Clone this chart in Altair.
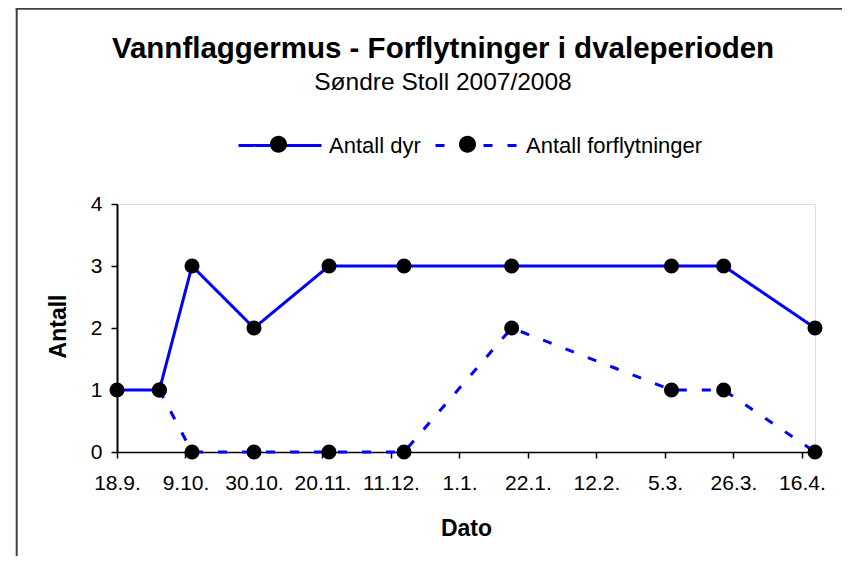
import json
import altair as alt
import pandas as pd

TITLE = "Vannflaggermus - Forflytninger i dvaleperioden"
SUBTITLE = "Søndre Stoll 2007/2008"
X_TITLE = "Dato"
Y_TITLE = "Antall"
SERIES = ["Antall dyr", "Antall forflytninger"]

# observation day, counted in days after 18.9.
DAYS = [0, 13, 23, 42, 65, 88, 121, 170, 186, 214]
ANTALL_DYR = [1, 1, 3, 2, 3, 3, 3, 3, 3, 2]
ANTALL_FORFLYTNINGER = [None, 1, 0, 0, 0, 0, 2, 1, 1, 0]

TICK_DAYS = [0, 21, 42, 63, 84, 105, 126, 147, 168, 189, 210]
TICK_LABELS = ["18.9.", "9.10.", "30.10.", "20.11.", "11.12.", "1.1.",
               "22.1.", "12.2.", "5.3.", "26.3.", "16.4."]
Y_TICKS = [0, 1, 2, 3, 4]

FONT = "Liberation Sans"
BLUE = "#0000ff"

rows = []
for d, a, f in zip(DAYS, ANTALL_DYR, ANTALL_FORFLYTNINGER):
    rows.append({"day": d, "value": a, "serie": SERIES[0]})
    rows.append({"day": d, "value": f, "serie": SERIES[1]})
df = pd.DataFrame(rows)

W, H = 698, 248
label_expr = json.dumps(TICK_LABELS) + "[round(datum.value / 21)]"

x_enc = alt.X(
    "day:Q",
    scale=alt.Scale(domain=[0, 214], nice=False, zero=False),
    axis=alt.Axis(
        values=TICK_DAYS, labelExpr=label_expr, title=X_TITLE, grid=False,
        domainColor="black", domainWidth=1.5, tickColor="black", tickWidth=1.5,
        tickSize=6, labelFont=FONT, labelFontSize=21, labelColor="black",
        labelPadding=31, labelBaseline="alphabetic", labelOverlap=False,
        labelFlush=False, titleFont=FONT, titleFontSize=23, titleFontWeight="bold",
        titleColor="black", titleX=W / 2, titleY=83, titleBaseline="alphabetic",
        titleAlign="center",
    ),
)
y_enc = alt.Y(
    "value:Q",
    scale=alt.Scale(domain=[0, 4], nice=False, zero=False),
    axis=alt.Axis(
        values=Y_TICKS, title=Y_TITLE, grid=False, format="d",
        domainColor="black", domainWidth=2, tickColor="black", tickWidth=1.5,
        tickSize=6, labelFont=FONT, labelFontSize=21, labelColor="black",
        labelPadding=9, titleFont=FONT, titleFontSize=23, titleFontWeight="bold",
        titleColor="black", titleX=-59, titleY=H / 2 - 2, titleAngle=270,
        titleAlign="center", titleBaseline="middle",
    ),
)

LEG_X, LEG_Y = 120, -101.5
SYM = 6889  # 83 px wide legend symbols
CIRCLE_PATH = "M-0.205,0A0.205,0.205,0,1,1,0.205,0A0.205,0.205,0,1,1,-0.205,0Z"

lines = alt.Chart(df).mark_line(color=BLUE, strokeWidth=3).encode(
    x=x_enc,
    y=y_enc,
    strokeDash=alt.StrokeDash(
        "serie:N",
        scale=alt.Scale(range=[[1, 0], [9, 15]]),
        legend=alt.Legend(
            orient="none", legendX=LEG_X, legendY=LEG_Y, direction="horizontal",
            columns=2, title=None, symbolType="stroke", symbolSize=SYM,
            symbolStrokeWidth=3, symbolStrokeColor=BLUE, labelFont=FONT,
            labelFontSize=22, labelColor="black", labelOffset=6, columnPadding=8,
            labelLimit=400, padding=0, zindex=0,
        ),
    ),
)

# second legend: only the black marker circles, laid over the line symbols
points = alt.Chart(df).transform_calculate(serie2="datum.serie").mark_point(
    filled=True, size=227, opacity=1
).encode(
    x=alt.X("day:Q"),
    y=alt.Y("value:Q"),
    color=alt.Color(
        "serie2:N",
        scale=alt.Scale(range=["black", "black"]),
        legend=alt.Legend(
            orient="none", legendX=LEG_X, legendY=LEG_Y, direction="horizontal",
            columns=2, title=None, symbolType=CIRCLE_PATH, symbolSize=SYM,
            symbolStrokeWidth=0, symbolFillColor="black", labelFont=FONT,
            labelFontSize=22, labelExpr="''", labelOffset=6, columnPadding=100,
            padding=0, zindex=1,
        ),
    ),
)

# outer chart frame (left and top edges; the others lie outside the picture)
one = alt.Data(values=[{"k": 0}])
border_left = alt.Chart(one).mark_rect(fill="#404040", strokeWidth=0).encode(
    x=alt.value(-101.3), x2=alt.value(-99.3), y=alt.value(-196.2), y2=alt.value(420)
)
border_top = alt.Chart(one).mark_rect(fill="#404040", strokeWidth=0).encode(
    x=alt.value(-101.3), x2=alt.value(760), y=alt.value(-196.2), y2=alt.value(-194.2)
)
title = alt.Chart(one).mark_text(
    text=TITLE, font=FONT, fontSize=29.5, fontWeight="bold", align="center",
    baseline="alphabetic", color="black"
).encode(x=alt.value(326), y=alt.value(-146))
subtitle = alt.Chart(one).mark_text(
    text=SUBTITLE, font=FONT, fontSize=24.5, align="center",
    baseline="alphabetic", color="black"
).encode(x=alt.value(326), y=alt.value(-114))

chart = alt.layer(border_left, border_top, lines, points, title, subtitle).properties(
    width=W, height=H,
    autosize=alt.AutoSizeParams(type="none"),
    padding={"left": 109, "top": 196, "right": 27, "bottom": 104},
).configure_view(stroke="black", strokeWidth=1.5).configure(background="white")

chart.save("out.html", embed_options={"renderer": "svg", "actions": False})
